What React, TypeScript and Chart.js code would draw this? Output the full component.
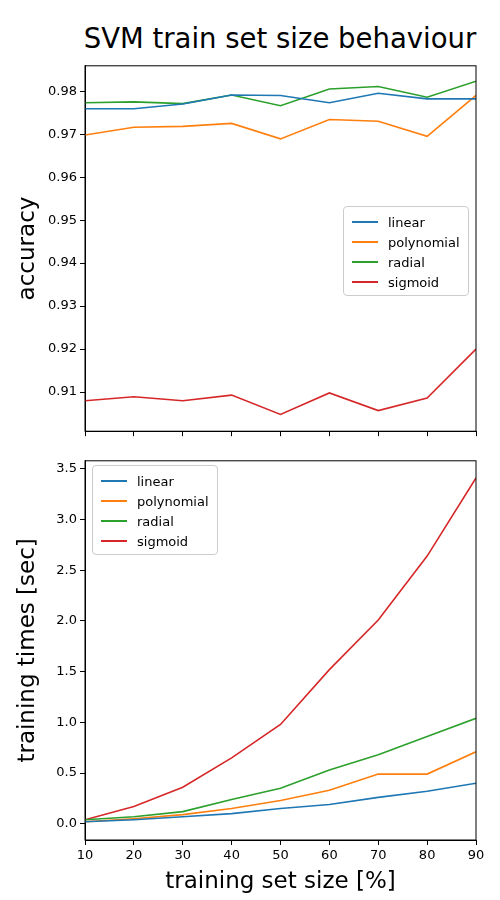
import { useEffect, useRef } from 'react';
import { Chart, ChartConfiguration, Plugin } from 'chart.js/auto';

const sizes = [10, 20, 30, 40, 50, 60, 70, 80, 90];
const seriesNames = ['linear', 'polynomial', 'radial', 'sigmoid'];
const colors = ['#1f77b4', '#ff7f0e', '#2ca02c', '#d62728'];

const accLinear = [0.9759, 0.9759, 0.977, 0.9791, 0.979, 0.9773, 0.9795, 0.9782, 0.9782];
const accPoly = [0.9698, 0.9716, 0.9718, 0.9725, 0.9689, 0.9734, 0.973, 0.9695, 0.979];
const accRadial = [0.9773, 0.9775, 0.9771, 0.9791, 0.9766, 0.9805, 0.9811, 0.9786, 0.9823];
const accSigmoid = [0.908, 0.9089, 0.908, 0.9093, 0.9048, 0.9098, 0.9057, 0.9086, 0.920];

const timeLinear = [0.02, 0.04, 0.07, 0.1, 0.15, 0.19, 0.26, 0.32, 0.4];
const timePoly = [0.02, 0.05, 0.09, 0.15, 0.23, 0.33, 0.49, 0.49, 0.71];
const timeRadial = [0.04, 0.07, 0.12, 0.24, 0.35, 0.53, 0.68, 0.86, 1.04];
const timeSigmoid = [0.04, 0.17, 0.36, 0.65, 0.98, 1.52, 2.01, 2.64, 3.41];

const accTicks = [0.91, 0.92, 0.93, 0.94, 0.95, 0.96, 0.97, 0.98];
const timeTicks = [0, 0.5, 1, 1.5, 2, 2.5, 3, 3.5];
const xTicks = [10, 20, 30, 40, 50, 60, 70, 80, 90];

const FONT = 'DejaVu Sans';

const frame: Plugin = {
  id: 'frame',
  afterDraw(chart) {
    const { ctx, chartArea: a } = chart;
    ctx.save();
    ctx.strokeStyle = '#000';
    ctx.lineWidth = 1;
    ctx.strokeRect(a.left, a.top, a.right - a.left, a.bottom - a.top);
    ctx.restore();
  },
};

function makeConfig(
  series: number[][],
  yMin: number,
  yMax: number,
  yTicks: number[],
  yTitle: string,
  bottom: boolean,
  yDecimals: number
): ChartConfiguration {
  return {
    type: 'line',
    data: {
      datasets: series.map((s, i) => ({
        label: seriesNames[i],
        data: s.map((v, j) => ({ x: sizes[j], y: v })),
        borderColor: colors[i],
        backgroundColor: colors[i],
        borderWidth: 1.6,
        pointRadius: 0,
        tension: 0,
      })),
    },
    options: {
      animation: false,
      responsive: false,
      layout: { padding: { top: 8, right: 24, left: 0, bottom: 0 } },
      plugins: { legend: { display: false }, tooltip: { enabled: false } },
      scales: {
        x: {
          type: 'linear',
          min: 10,
          max: 90,
          afterBuildTicks: (s) => {
            s.ticks = xTicks.map((v) => ({ value: v }));
          },
          afterFit: (s) => {
            s.height = bottom ? 60 : 5;
          },
          grid: { drawOnChartArea: false, drawTicks: true, tickLength: 5, color: '#000' },
          border: { color: '#000' },
          ticks: { display: bottom, color: '#000', font: { family: FONT, size: 13 }, maxRotation: 0 },
          title: {
            display: bottom,
            text: 'training set size [%]',
            color: '#000',
            font: { family: FONT, size: 23 },
            padding: { top: 0 },
          },
        },
        y: {
          min: yMin,
          max: yMax,
          afterBuildTicks: (s) => {
            s.ticks = yTicks.map((v) => ({ value: v }));
          },
          afterFit: (s) => {
            s.width = 85;
          },
          grid: { drawOnChartArea: false, drawTicks: true, tickLength: 5, color: '#000' },
          border: { color: '#000' },
          ticks: {
            color: '#000',
            font: { family: FONT, size: 13 },
            callback: (v) => Number(v).toFixed(yDecimals),
          },
          title: {
            display: true,
            text: yTitle,
            color: '#000',
            font: { family: FONT, size: 23 },
            padding: { top: 14, bottom: 0 },
          },
        },
      },
    },
    plugins: [frame],
  };
}

function LineChart({ config, top, height }: { config: ChartConfiguration; top: number; height: number }) {
  const ref = useRef<HTMLCanvasElement>(null);
  useEffect(() => {
    if (!ref.current) return;
    const chart = new Chart(ref.current, config);
    return () => chart.destroy();
  }, [config]);
  return (
    <canvas
      ref={ref}
      width={500}
      height={height}
      style={{ position: 'absolute', left: 0, top, width: 500, height }}
    />
  );
}

function Legend({ left, top }: { left: number; top: number }) {
  return (
    <div
      style={{
        position: 'absolute',
        left,
        top,
        background: 'rgba(255,255,255,0.85)',
        border: '1px solid #ccc',
        borderRadius: 4,
        padding: '5px 8px 3px 8px',
        fontFamily: FONT,
        fontSize: 13,
      }}
    >
      {seriesNames.map((n, i) => (
        <div key={n} style={{ display: 'flex', alignItems: 'center', height: 20 }}>
          <span style={{ display: 'inline-block', width: 26, height: 2, background: colors[i], marginRight: 10 }} />
          {n}
        </div>
      ))}
    </div>
  );
}

const topConfig = makeConfig([accLinear, accPoly, accRadial, accSigmoid], 0.9009, 0.9859, accTicks, 'accuracy', false, 2);
const bottomConfig = makeConfig(
  [timeLinear, timePoly, timeRadial, timeSigmoid],
  -0.16,
  3.58,
  timeTicks,
  'training times [sec]',
  true,
  1
);

export default function App() {
  return (
    <div style={{ position: 'absolute', left: 0, top: 0, width: 500, height: 900, background: '#fff' }}>
      <div
        style={{
          position: 'absolute',
          left: 60,
          width: 440,
          top: 22,
          textAlign: 'center',
          fontFamily: FONT,
          fontSize: 27.5,
          color: '#000',
        }}
      >
        SVM train set size behaviour
      </div>
      <LineChart config={topConfig} top={55} height={387} />
      <LineChart config={bottomConfig} top={450} height={450} />
      <Legend left={343} top={206} />
      <Legend left={92} top={465} />
    </div>
  );
}
